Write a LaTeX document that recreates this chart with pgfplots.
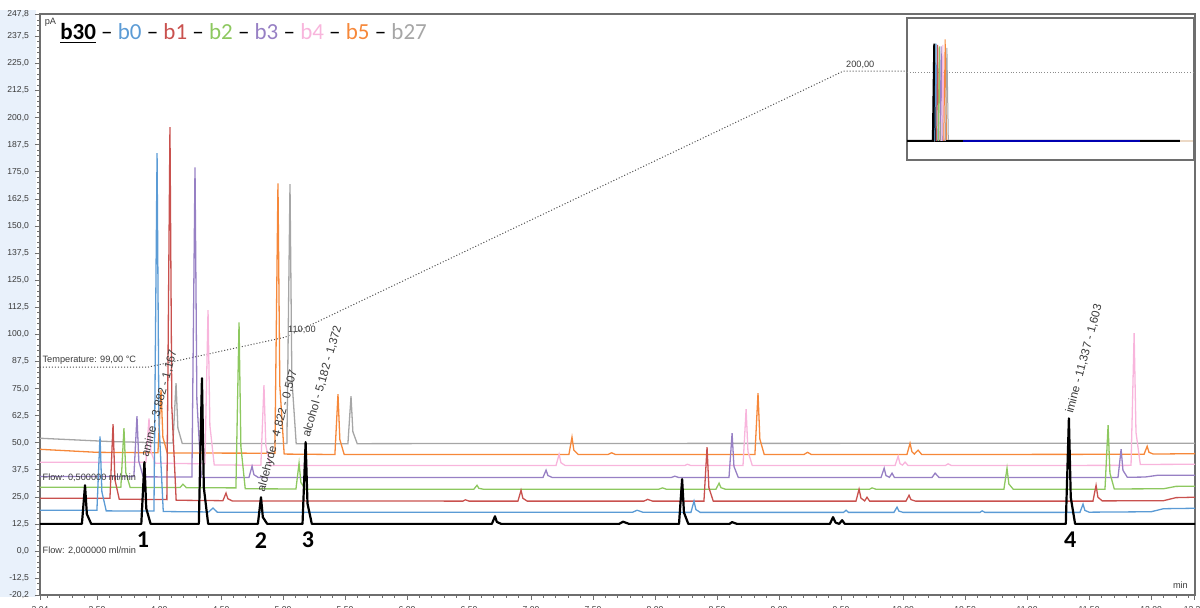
\documentclass[border=0pt]{standalone}
\usepackage{fontspec}
\setmainfont{Liberation Sans}
\newfontfamily\carlito[Ligatures=TeX]{Carlito}
\usepackage{pgfplots}
\pgfplotsset{compat=1.18}
\definecolor{cb0}{HTML}{5B9BD5}
\definecolor{cb1}{HTML}{C9514E}
\definecolor{cb2}{HTML}{8DC85F}
\definecolor{cb3}{HTML}{9780C4}
\definecolor{cb4}{HTML}{F8B5DC}
\definecolor{cb5}{HTML}{F6883A}
\definecolor{cb27}{HTML}{A6A6A6}
\definecolor{ylab}{HTML}{E9F1FB}
\definecolor{frame}{HTML}{6E6E6E}
\definecolor{txt}{HTML}{3A3A3A}
\begin{document}
\begin{tikzpicture}
\useasboundingbox (-20pt,-6.5pt) rectangle (580pt,297.5pt);
\fill[ylab] (-20pt,-1pt) rectangle (-2pt,292.5pt);
\begin{axis}[
  at={(0pt,0pt)}, anchor=south west,
  scale only axis, width=577.5pt, height=290.5pt,
  xmin=3.04, xmax=12.354, ymin=-20.2, ymax=247.8,
  xtick={3.04,3.5,4,4.5,5,5.5,6,6.5,7,7.5,8,8.5,9,9.5,10,10.5,11,11.5,12,12.35},
  minor xtick={3.1,3.2,3.3,3.4,3.6,3.7,3.8,3.9,4.1,4.2,4.3,4.4,4.6,4.7,4.8,4.9,5.1,5.2,5.3,5.4,5.6,5.7,5.8,5.9,6.1,6.2,6.3,6.4,6.6,6.7,6.8,6.9,7.1,7.2,7.3,7.4,7.6,7.7,7.8,7.9,8.1,8.2,8.3,8.4,8.6,8.7,8.8,8.9,9.1,9.2,9.3,9.4,9.6,9.7,9.8,9.9,10.1,10.2,10.3,10.4,10.6,10.7,10.8,10.9,11.1,11.2,11.3,11.4,11.6,11.7,11.8,11.9,12.1,12.2,12.3},
  ytick={-20.2,-12.5,0,12.5,25,37.5,50,62.5,75,87.5,100,112.5,125,137.5,150,162.5,175,187.5,200,212.5,225,237.5,247.8},
  minor ytick={-17.5,-15,...,245},
  tick align=outside, xtick pos=bottom, ytick pos=left,
  major tick length=2.5pt, minor tick length=1.3pt,
  tick style={frame, line width=0.4pt},
  axis line style={draw=frame, line width=0.9pt},
  /pgf/number format/assume math mode=true,
  tick label style={font=\fontsize{4.3}{5}\selectfont, text=txt},
  xticklabel style={/pgf/number format/fixed, /pgf/number format/fixed zerofill, /pgf/number format/precision=2, yshift=0.5pt},
  yticklabel style={/pgf/number format/fixed, /pgf/number format/fixed zerofill, /pgf/number format/precision=1, /pgf/number format/use comma, xshift=0.5pt},
  clip=false,
]
% temperature program (dotted)
\addplot[densely dotted, line width=0.5pt, black!70] coordinates {(3.04,84.9)(3.911,84.9)(5.016,98.7)(9.516,221.4)(10.032,221.4)};
% b27 gray
\addplot[cb27, line width=0.65pt] coordinates {(3.04,52.1)(3.6,50.6)(4.0,50.0)
 (4.112,49.9)(4.137,77.5)(4.152,56.8)(4.187,49.7)
 (5.031,49.7)(5.056,169.3)(5.071,79.6)(5.106,49.6)
 (5.523,49.6)(5.548,71.5)(5.563,55.1)(5.598,49.6)
 (7.0,49.7)(12.354,49.8)};
% b5 orange
\addplot[cb5, line width=0.65pt] coordinates {(3.04,47.0)(3.5,45.6)
 (3.991,45.4)(4.016,74.3)(4.031,52.6)(4.066,45.3)
 (4.934,45.2)(4.959,169.7)(4.974,76.3)(5.009,44.8)
 (5.418,44.6)(5.443,72.4)(5.458,51.5)(5.493,44.6)
 (7.305,44.6)(7.330,52.6)(7.345,46.6)(7.380,44.6)
 (7.62,44.6)(7.65,45.4)(7.68,44.6)
 (8.805,44.6)(8.830,72.9)(8.845,51.7)(8.880,44.6)
 (9.20,44.6)(9.23,45.6)(9.26,44.6)
 (10.031,44.6)(10.056,49.8)(10.071,45.9)(10.09,44.8)(10.121,46.6)(10.15,44.6)
 (11.943,44.7)(11.968,48.4)(11.983,45.6)(12.018,44.8)(12.354,45.0)};
% b4 pink
\addplot[cb4, line width=0.65pt] coordinates {(3.04,41.0)
 (3.894,41.0)(3.919,61.3)(3.934,46.1)(3.969,40.6)
 (4.370,40.3)(4.395,111.2)(4.410,58.0)(4.445,39.8)
 (4.821,39.6)(4.846,76.6)(4.861,48.8)(4.896,39.5)
 (7.201,39.5)(7.226,44.7)(7.241,40.8)(7.276,39.5)
 (8.24,39.5)(8.26,40.1)(8.29,39.5)
 (8.709,39.5)(8.734,65.5)(8.749,46.0)(8.784,39.5)
 (9.935,39.5)(9.960,43.8)(9.975,40.4)(9.995,39.7)(10.016,41.1)(10.04,39.5)
 (10.34,39.5)(10.363,40.3)(10.39,39.5)
 (11.838,39.6)(11.863,100.6)(11.878,54.8)(11.913,40.0)(12.354,40.1)};
% b3 purple
\addplot[cb3, line width=0.65pt] coordinates {(3.04,34.5)
 (3.797,34.5)(3.822,62.3)(3.837,41.5)(3.872,34.3)
 (4.265,34.2)(4.290,177.1)(4.305,69.9)(4.340,34.0)
 (4.725,34.0)(4.750,39.2)(4.765,35.3)(4.800,34.0)
 (7.096,34.0)(7.121,37.4)(7.136,34.9)(7.171,34.0)
 (8.13,34.0)(8.16,34.6)(8.19,34.0)
 (8.596,34.0)(8.621,54.4)(8.636,39.1)(8.671,34.0)
 (9.822,34.0)(9.847,38.3)(9.862,34.9)(9.89,34.1)(9.911,36.0)(9.93,34.0)
 (10.233,34.0)(10.258,36.0)(10.29,34.0)
 (11.733,34.0)(11.758,47.0)(11.773,37.3)(11.808,34.1)
 (11.95,34.2)(12.05,35.0)(12.354,35.0)};
% b2 green
\addplot[cb2, line width=0.65pt] coordinates {(3.04,29.5)
 (3.692,29.5)(3.717,56.7)(3.732,36.3)(3.767,29.4)
 (4.17,29.4)(4.193,30.9)(4.22,29.3)
 (4.620,29.2)(4.645,105.6)(4.660,48.3)(4.695,28.8)
 (5.104,28.7)(5.129,40.6)(5.144,31.7)(5.179,28.6)
 (6.539,28.6)(6.564,30.4)(6.579,29.0)(6.614,28.6)
 (8.03,28.6)(8.06,29.2)(8.09,28.6)
 (8.491,28.6)(8.516,31.4)(8.531,29.3)(8.566,28.6)
 (9.73,28.6)(9.750,29.2)(9.78,28.6)
 (10.813,28.6)(10.838,38.3)(10.853,31.0)(10.888,28.6)
 (11.628,28.6)(11.653,58.1)(11.668,36.0)(11.703,28.7)
 (12.10,28.8)(12.20,29.9)(12.354,30.0)};
% b1 red
\addplot[cb1, line width=0.65pt] coordinates {(3.04,24.4)
 (3.604,24.4)(3.629,58.6)(3.644,33.0)(3.679,24.0)
 (4.063,23.8)(4.088,195.6)(4.103,66.6)(4.138,23.5)
 (4.515,23.3)(4.540,26.8)(4.555,24.2)(4.59,23.2)
 (6.45,23.1)(6.47,23.7)(6.50,23.1)
 (6.894,23.1)(6.919,28.1)(6.934,24.4)(6.969,23.1)
 (7.91,23.1)(7.94,23.9)(7.98,23.1)
 (8.394,23.1)(8.419,48.0)(8.434,29.3)(8.469,23.1)
 (9.620,23.1)(9.645,28.6)(9.66,24.5)(9.69,23.2)(9.709,24.9)(9.73,23.1)
 (10.023,23.1)(10.048,25.8)(10.063,23.8)(10.1,23.1)
 (11.531,23.1)(11.556,30.4)(11.571,24.9)(11.606,23.2)
 (12.10,23.3)(12.20,24.7)(12.354,24.9)};
% b0 blue
\addplot[cb0, line width=0.65pt] coordinates {(3.04,18.9)
 (3.499,18.9)(3.524,53.0)(3.539,27.4)(3.574,18.6)
 (3.959,18.5)(3.984,183.6)(3.999,59.8)(4.034,18.3)
 (4.40,18.1)(4.435,19.9)(4.47,18.0)
 (7.82,18.0)(7.855,18.9)(7.9,18.0)
 (8.289,17.9)(8.314,23.1)(8.329,19.2)(8.364,17.9)
 (9.52,17.9)(9.540,18.9)(9.56,17.9)
 (9.926,17.9)(9.951,20.3)(9.966,18.5)(10.0,17.9)
 (10.62,17.9)(10.637,18.6)(10.66,17.9)
 (11.426,17.9)(11.451,21.7)(11.466,18.8)(11.50,18.0)
 (12.0,18.2)(12.1,19.6)(12.354,19.8)};
% b30 black
\addplot[black, line width=1.1pt, line join=round] coordinates {(3.04,12.6)
 (3.378,12.6)(3.403,30.4)(3.418,17.1)(3.453,12.6)
 (3.857,12.6)(3.882,41.1)(3.897,19.7)(3.932,12.6)
 (4.321,12.6)(4.346,79.8)(4.361,29.4)(4.396,12.6)
 (4.797,12.6)(4.822,24.9)(4.837,15.7)(4.872,12.6)
 (5.157,12.6)(5.182,50.3)(5.197,22.0)(5.232,12.6)
 (6.684,12.6)(6.709,16.1)(6.724,13.5)(6.759,12.6)
 (7.71,12.6)(7.742,13.6)(7.79,12.6)
 (8.193,12.6)(8.218,33.2)(8.233,17.8)(8.268,12.6)
 (8.60,12.6)(8.621,13.4)(8.66,12.6)
 (9.41,12.6)(9.435,15.7)(9.455,13.2)(9.485,12.6)(9.508,14.3)(9.53,12.6)
 (11.312,12.6)(11.337,61.3)(11.352,24.8)(11.387,12.6)(12.354,12.6)};
% annotations
\begin{scope}[font=\fontsize{5.8}{7}\selectfont, text=txt]
\node[anchor=west, rotate=75, inner sep=1pt] at (axis cs:3.882,42.5) {amine - 3,882 - 1,167};
\node[anchor=west, rotate=75, inner sep=1pt] at (axis cs:4.822,26.3) {aldehyde - 4,822 - 0,507};
\node[anchor=west, rotate=74, inner sep=1pt] at (axis cs:5.182,51.7) {alcohol - 5,182 - 1,372};
\node[anchor=west, rotate=75, inner sep=1pt] at (axis cs:11.337,62.7) {imine - 11,337 - 1,603};
\end{scope}
\begin{scope}[font=\fontsize{4.6}{5.5}\selectfont, text=txt, inner sep=0.5pt]
\node[anchor=south west] at (axis cs:3.05,85.6) {Temperature: 99,00 °C};
\node[anchor=south west] at (axis cs:5.03,99.5) {110,00};
\node[anchor=south west] at (axis cs:9.53,222.0) {200,00};
\node[anchor=west] at (axis cs:3.05,33.7) {Flow: 0,500000 ml/min};
\node[anchor=west] at (axis cs:3.05,0) {Flow: 2,000000 ml/min};
\node[anchor=north west] at (rel axis cs:0.003,0.995) {pA};
\node[anchor=south east] at (rel axis cs:0.995,0.008) {min};
\end{scope}
\begin{scope}[font=\carlito\bfseries\fontsize{12}{14}\selectfont]
\node at (axis cs:3.871,5.1) {1};
\node at (axis cs:4.822,5.1) {2};
\node at (axis cs:5.201,5.1) {3};
\node at (axis cs:11.347,5.1) {4};
\end{scope}
\node[anchor=base west, inner sep=0pt, font=\carlito\fontsize{11.5}{13}\selectfont] at (axis cs:3.201,236.2)
 {\textbf{\underline{b30}} – \textcolor{cb0}{b0} – \textcolor{cb1}{b1} – \textcolor{cb2}{b2} – \textcolor{cb3}{b3} – \textcolor{cb4}{b4} – \textcolor{cb5}{b5} – \textcolor{cb27}{b27}};
\end{axis}
% inset overview chromatogram
\begin{axis}[
  at={(433.5pt,217.5pt)}, anchor=south west,
  scale only axis, width=143.5pt, height=71pt,
  xmin=0, xmax=100, ymin=0, ymax=100,
  xtick=\empty, ytick=\empty,
  axis line style={draw=frame, line width=0.8pt},
  axis background/.style={fill=white},
]
\addplot[densely dotted, black!45, line width=0.4pt] coordinates {(0,62)(100,62)};
\addplot[black, line width=1pt] coordinates {(0,13.4)(9.0,13.4)(9.5,82)(9.9,13.4)(95.1,13.4)};
\addplot[cb0, line width=0.5pt] coordinates {(9.7,13.4)(10.1,82)(10.5,13.4)};
\addplot[cb1, line width=0.5pt] coordinates {(10.3,13.4)(10.7,81)(11.1,13.4)};
\addplot[cb2, line width=0.5pt] coordinates {(10.9,13.4)(11.3,80)(11.7,13.4)};
\addplot[cb3, line width=0.5pt] coordinates {(11.5,13.4)(11.9,80)(12.3,13.4)};
\addplot[cb4, line width=0.5pt] coordinates {(12.1,13.4)(12.5,81)(12.9,13.4)};
\addplot[cb5, line width=0.5pt] coordinates {(12.8,13.4)(13.3,85)(13.8,13.4)};
\addplot[cb27, line width=0.5pt] coordinates {(13.4,13.4)(13.9,79)(14.4,13.4)};
\addplot[black, line width=1pt] coordinates {(13.6,13.4)(19.5,13.4)};
\addplot[blue!70!black, line width=1pt] coordinates {(19.5,13.4)(81.2,13.4)};
\addplot[brown!30, line width=1pt] coordinates {(95.1,13.4)(99.5,13.4)};
\end{axis}
\end{tikzpicture}
\end{document}
